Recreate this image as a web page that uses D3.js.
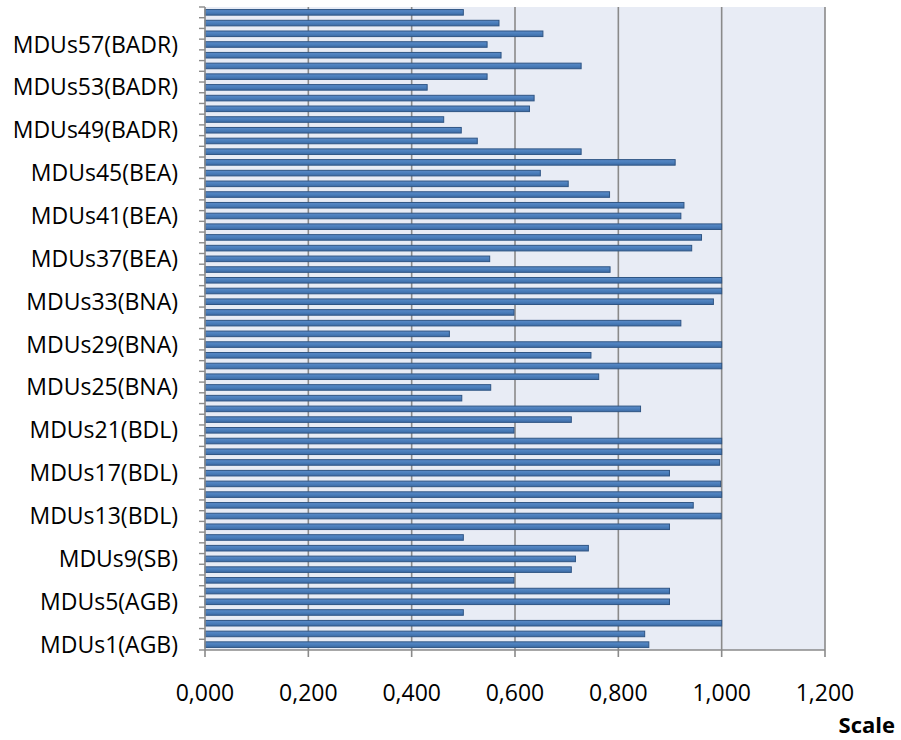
<!DOCTYPE html>
<html><head><meta charset="utf-8">
<script src="https://cdn.jsdelivr.net/npm/d3@7"></script>
<style>
html,body{margin:0;padding:0;background:#fff;}
svg text{font-family:"Open Sans", sans-serif;fill:#000;}
</style></head>
<body><svg id="c" width="901" height="740"></svg>
<script>
// Category numbers 1..60 and their group
const groups = ["AGB","AGB","AGB","AGB","AGB","AGB","SB","SB","SB","SB","SB","SB",
  "BDL","BDL","BDL","BDL","BDL","BDL","BDL","BDL","BDL","BDL","BDL","BDL",
  "BNA","BNA","BNA","BNA","BNA","BNA","BNA","BNA","BNA","BNA","BNA","BNA",
  "BEA","BEA","BEA","BEA","BEA","BEA","BEA","BEA","BEA","BEA","BEA","BEA",
  "BADR","BADR","BADR","BADR","BADR","BADR","BADR","BADR","BADR","BADR","BADR","BADR"];
const categories = groups.map((g,i)=>`MDUs${i+1}(${g})`);
// values for MDUs1 .. MDUs60
const values = [0.859,0.851,1.000,0.500,0.899,0.899,0.598,0.709,0.717,0.742,
  0.500,0.899,0.999,0.945,1.000,0.998,0.899,0.996,1.000,1.000,
  0.598,0.709,0.843,0.497,0.553,0.762,1.000,0.747,1.000,0.473,
  0.921,0.598,0.984,1.000,1.000,0.784,0.551,0.942,0.961,1.000,
  0.921,0.927,0.783,0.703,0.649,0.910,0.728,0.527,0.496,0.462,
  0.628,0.637,0.430,0.546,0.728,0.573,0.546,0.654,0.569,0.500];
const xTicks = [0,0.2,0.4,0.6,0.8,1.0,1.2];
const xTickLabels = ["0,000","0,200","0,400","0,600","0,800","1,000","1,200"];
const axisTitle = "Scale";

const data = categories.map((c,i)=>({cat:c, v:values[i], idx:i+1}));
const svg = d3.select("#c");
const L=205, R=825, T=7, B=650;
const x = d3.scaleLinear().domain([0,1.2]).range([L,R]);
const y = d3.scaleBand().domain(categories.slice().reverse()).range([T,B]).paddingInner(0.48).paddingOuter(0.24);

// plot background
svg.append("rect").attr("x",L).attr("y",T).attr("width",R-L).attr("height",B-T).attr("fill","#e8ecf5");
// gridlines
svg.append("g").selectAll("line").data(xTicks.slice(1)).join("line")
  .attr("x1",d=>x(d)).attr("x2",d=>x(d)).attr("y1",T).attr("y2",B)
  .attr("stroke","#8a8a8a").attr("stroke-width",1.6);

// bars
const defs = svg.append("defs");
const grad = defs.append("linearGradient").attr("id","bg").attr("x1",0).attr("x2",0).attr("y1",0).attr("y2",1);
grad.append("stop").attr("offset","0%").attr("stop-color","#5b8bc8");
grad.append("stop").attr("offset","50%").attr("stop-color","#4a7ebb");
grad.append("stop").attr("offset","100%").attr("stop-color","#3d6aa3");
svg.append("g").selectAll("rect").data(data).join("rect")
  .attr("x",x(0)).attr("y",d=>y(d.cat))
  .attr("width",d=>x(d.v)-x(0)).attr("height",y.bandwidth())
  .attr("fill","url(#bg)").attr("stroke","#2f5584").attr("stroke-width",1);

// left axis line and ticks at category boundaries
const step = (B-T)/categories.length;
const bounds = d3.range(categories.length+1).map(i=>T+i*step);
svg.append("line").attr("x1",L).attr("x2",L).attr("y1",T).attr("y2",B).attr("stroke","#8a8a8a").attr("stroke-width",1.6);
svg.append("g").selectAll("line").data(bounds).join("line")
  .attr("x1",L-6).attr("x2",L).attr("y1",d=>d).attr("y2",d=>d)
  .attr("stroke","#8a8a8a").attr("stroke-width",1.4);

// y labels every 4th, starting at MDUs1
svg.append("g").selectAll("text").data(data.filter(d=>(d.idx-1)%4===0)).join("text")
  .attr("x",178).attr("y",d=>y(d.cat)+y.bandwidth()/2)
  .attr("dy","0.35em").attr("text-anchor","end").attr("font-size",23)
  .text(d=>d.cat);

// bottom axis
svg.append("line").attr("x1",L).attr("x2",R).attr("y1",B).attr("y2",B).attr("stroke","#8a8a8a").attr("stroke-width",1.6);
svg.append("g").selectAll("line").data(xTicks).join("line")
  .attr("x1",d=>x(d)).attr("x2",d=>x(d)).attr("y1",B).attr("y2",B+7)
  .attr("stroke","#8a8a8a").attr("stroke-width",1.6);
svg.append("g").selectAll("text").data(xTicks).join("text")
  .attr("x",d=>x(d)).attr("y",701).attr("text-anchor","middle").attr("font-size",23)
  .text((d,i)=>xTickLabels[i]);
svg.append("text").attr("x",895).attr("y",733).attr("text-anchor","end")
  .attr("font-size",22).attr("font-weight","bold").text(axisTitle);
</script></body></html>
